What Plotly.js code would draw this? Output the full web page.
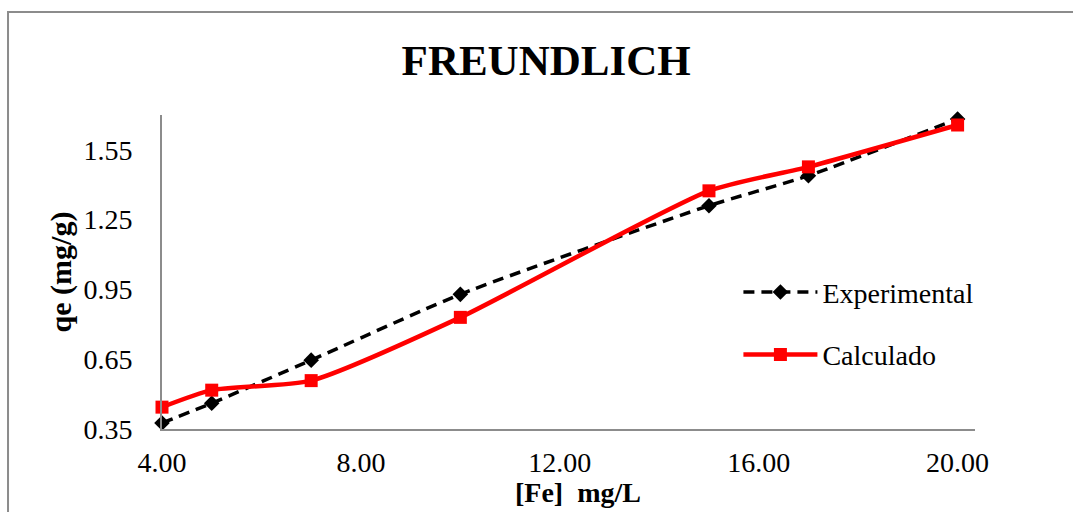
<!DOCTYPE html>
<html>
<head>
<meta charset="utf-8">
<script src="https://cdn.plot.ly/plotly-3.0.1.min.js"></script>
<style>html,body{margin:0;padding:0;background:#fff;}#chart{width:1073px;height:512px;}</style>
</head>
<body>
<div id="chart"></div>
<script>
const concentration = [4, 5, 7, 10, 15, 17, 20];
const experimental = [0.376, 0.461, 0.646, 0.929, 1.31, 1.439, 1.683];
const calculado = [0.444, 0.517, 0.558, 0.83, 1.374, 1.477, 1.657];
const xTicks = [4, 8, 12, 16, 20];
const yTicks = [0.35, 0.65, 0.95, 1.25, 1.55];

const serif = 'Liberation Serif, Times New Roman, serif';

const traces = [
  {
    x: concentration, y: experimental, name: 'Experimental',
    type: 'scatter', mode: 'lines+markers', cliponaxis: false,
    line: {color: '#000000', width: 3.5, dash: '11px,7px', shape: 'spline', smoothing: 0.6},
    marker: {symbol: 'diamond', size: 12, color: '#000000'},
    legendgroup: 'a'
  },
  {
    x: concentration, y: calculado, name: 'Calculado',
    type: 'scatter', mode: 'lines+markers', cliponaxis: false,
    line: {color: '#ff0000', width: 4.5, shape: 'spline', smoothing: 0.6},
    marker: {symbol: 'square', size: 13, color: '#ff0000'},
    legendgroup: 'b'
  }
];

const layout = {
  width: 1073, height: 512,
  margin: {l: 162, r: 98, t: 115, b: 83},
  paper_bgcolor: '#ffffff', plot_bgcolor: '#ffffff',
  font: {family: serif, color: '#000000', size: 28},
  title: {
    text: '<b>FREUNDLICH</b>',
    font: {family: serif, size: 43, color: '#000000'},
    xref: 'container', yref: 'container', x: 0.509, y: 0.883,
    xanchor: 'center', yanchor: 'middle'
  },
  xaxis: {
    range: [4, 20.35], tickvals: xTicks, tickformat: '.2f',
    showgrid: false, zeroline: false, showline: true,
    linecolor: '#8c8c8c', linewidth: 2,
    ticks: 'outside', ticklen: 7, tickcolor: 'rgba(0,0,0,0)',
    tickfont: {family: serif, size: 28}
  },
  yaxis: {
    range: [0.35, 1.70], tickvals: yTicks, tickformat: '.2f',
    showgrid: false, zeroline: false, showline: true,
    linecolor: '#8c8c8c', linewidth: 2,
    ticks: 'outside', ticklen: 22, tickcolor: 'rgba(0,0,0,0)',
    tickfont: {family: serif, size: 28},
    title: {text: '<b>qe (mg/g)</b>', font: {family: serif, size: 30}, standoff: 3}
  },
  annotations: [{
    text: '<b>[Fe]  mg/L</b>', xref: 'paper', yref: 'paper',
    x: 0.512, y: -0.2038, xanchor: 'center', yanchor: 'middle',
    showarrow: false, font: {family: serif, size: 28, color: '#000000'}
  }],
  showlegend: true,
  legend: {
    x: 0.709, y: 0.515, xanchor: 'left', yanchor: 'top',
    font: {family: serif, size: 28}, bgcolor: 'rgba(0,0,0,0)',
    itemwidth: 74, traceorder: 'grouped', tracegroupgap: 23
  },
  shapes: [{
    type: 'rect', xref: 'paper', yref: 'paper',
    x0: -0.1894, x1: 1.3, y0: -0.6, y1: 1.328,
    line: {color: '#8c8c8c', width: 2}, fillcolor: 'rgba(0,0,0,0)', layer: 'below'
  }]
};

Plotly.newPlot('chart', traces, layout, {displayModeBar: false, staticPlot: true});
</script>
</body>
</html>
